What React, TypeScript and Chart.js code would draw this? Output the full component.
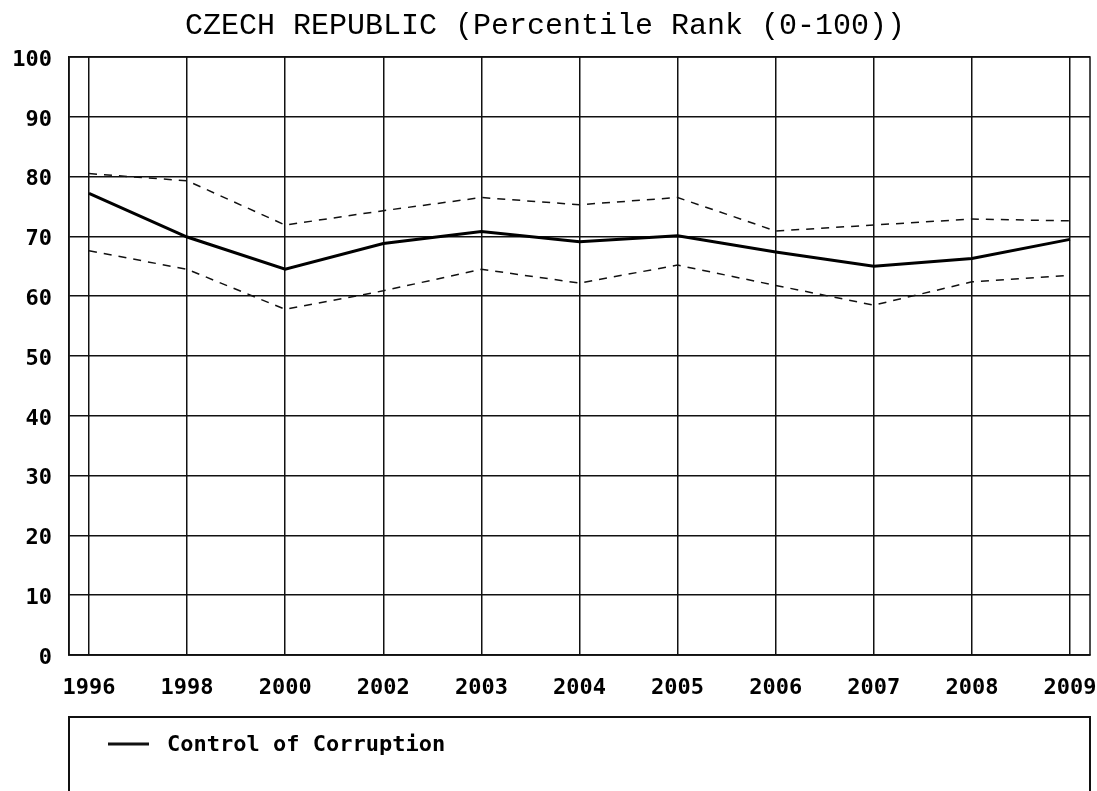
import React, { useEffect, useRef } from "react";
import { Chart, registerables } from "chart.js";

Chart.register(...registerables);

const years = ["1996", "1998", "2000", "2002", "2003", "2004", "2005", "2006", "2007", "2008", "2009"];
const rankValues = [77.2, 69.9, 64.5, 68.8, 70.8, 69.1, 70.1, 67.4, 65.0, 66.3, 69.5];
const upperValues = [80.5, 79.3, 71.9, 74.3, 76.5, 75.3, 76.5, 70.9, 71.9, 72.9, 72.6];
const lowerValues = [67.6, 64.5, 57.8, 60.9, 64.5, 62.2, 65.2, 61.8, 58.5, 62.4, 63.5];
const yTicks = [0, 10, 20, 30, 40, 50, 60, 70, 80, 90, 100];
const titleText = "CZECH REPUBLIC (Percentile Rank (0-100))";
const seriesName = "Control of Corruption";

const toPoints = (vals: number[]) => vals.map((v, i) => ({ x: i, y: v }));

const frameAndLegend = {
  id: "frameAndLegend",
  afterDraw(chart: any) {
    const { ctx, chartArea } = chart;
    ctx.save();
    ctx.strokeStyle = "#111";
    ctx.lineWidth = 1.5;
    ctx.strokeRect(chartArea.left, chartArea.top, chartArea.right - chartArea.left, chartArea.bottom - chartArea.top);
    // legend box
    const boxLeft = chartArea.left;
    const boxTop = 717;
    ctx.lineWidth = 2;
    ctx.strokeRect(boxLeft, boxTop, chartArea.right - boxLeft, 120);
    ctx.lineWidth = 3;
    ctx.beginPath();
    ctx.moveTo(boxLeft + 39, 744);
    ctx.lineTo(boxLeft + 80, 744);
    ctx.stroke();
    ctx.fillStyle = "#000";
    ctx.font = "bold 22px 'DejaVu Sans Mono'";
    ctx.textBaseline = "middle";
    ctx.textAlign = "left";
    ctx.fillText(seriesName, boxLeft + 98, 745);
    ctx.restore();
  },
};

export default function App() {
  const ref = useRef<HTMLCanvasElement>(null);
  useEffect(() => {
    document.body.style.margin = "0";
    const canvas = ref.current!;
    const chart = new Chart(canvas, {
      type: "line",
      data: {
        datasets: [
          {
            label: seriesName,
            data: toPoints(rankValues),
            borderColor: "#000",
            borderWidth: 3,
            pointRadius: 0,
            tension: 0,
            order: 0,
          },
          {
            label: "upper",
            data: toPoints(upperValues),
            borderColor: "#111",
            borderWidth: 1.5,
            borderDash: [8, 7],
            pointRadius: 0,
            tension: 0,
            order: 1,
          },
          {
            label: "lower",
            data: toPoints(lowerValues),
            borderColor: "#111",
            borderWidth: 1.5,
            borderDash: [8, 7],
            pointRadius: 0,
            tension: 0,
            order: 1,
          },
        ],
      },
      options: {
        responsive: false,
        animation: false,
        layout: { padding: { left: 0, right: 7, top: 0, bottom: 0 } },
        plugins: {
          legend: { display: false },
          tooltip: { enabled: false },
          title: {
            display: true,
            text: titleText,
            color: "#000",
            font: { family: "'Liberation Mono'", size: 30, weight: "normal", lineHeight: 1.2 },
            padding: { top: 8, bottom: 13 },
          },
        },
        scales: {
          x: {
            type: "linear",
            min: -0.204,
            max: 10.204,
            afterBuildTicks: (s: any) => {
              s.ticks = years.map((_, i) => ({ value: i }));
            },
            afterFit: (s: any) => {
              s.height = 136;
              s.paddingLeft = 0;
              s.paddingRight = 0;
            },
            grid: { color: "#111", lineWidth: 1.5, drawTicks: false },
            border: { display: true, color: "#111", width: 1.5 },
            ticks: {
              color: "#000",
              padding: 20,
              maxRotation: 0,
              autoSkip: false,
              font: { family: "'DejaVu Sans Mono'", size: 22, weight: "bold" },
              callback: (v: any) => years[v] ?? "",
            },
          },
          y: {
            type: "linear",
            min: 0,
            max: 100,
            afterBuildTicks: (s: any) => {
              s.ticks = yTicks.map((v) => ({ value: v }));
            },
            afterFit: (s: any) => {
              s.width = 69;
            },
            grid: { color: "#111", lineWidth: 1.5, drawTicks: false },
            border: { display: true, color: "#111", width: 1.5 },
            ticks: {
              color: "#000",
              padding: 17,
              labelOffset: 3,
              font: { family: "'DejaVu Sans Mono'", size: 22, weight: "bold" },
            },
          },
        },
      },
      plugins: [frameAndLegend],
    });
    return () => chart.destroy();
  }, []);
  return <canvas ref={ref} width={1097} height={791} style={{ display: "block" }} />;
}
